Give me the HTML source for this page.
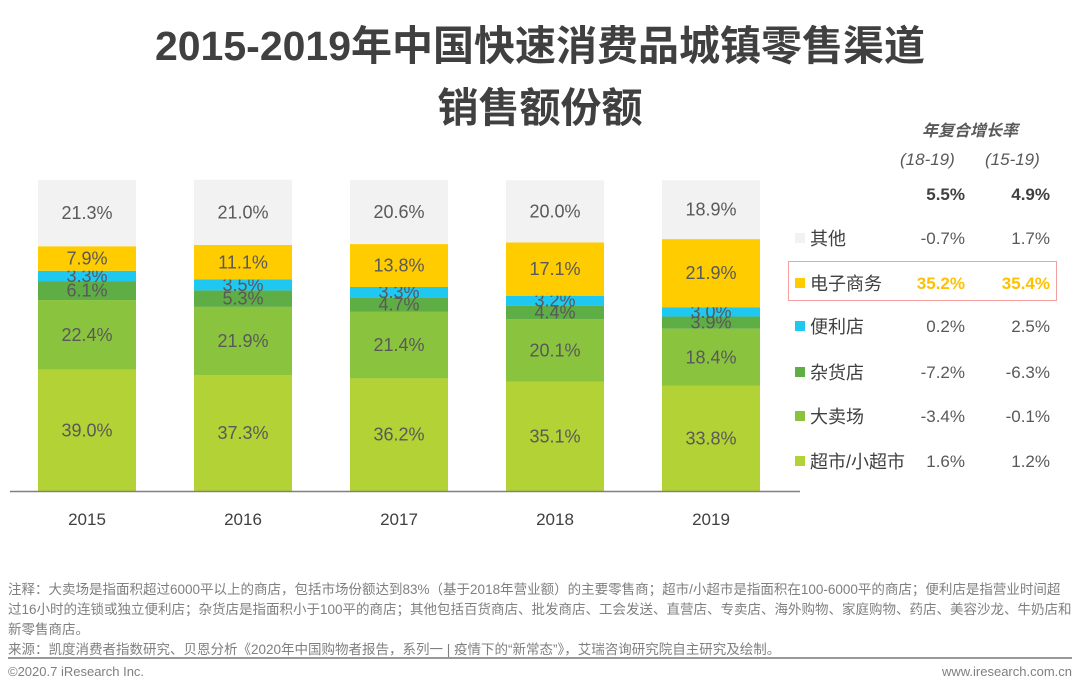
<!DOCTYPE html>
<html><head><meta charset="utf-8"><style>
body{margin:0;width:1080px;height:692px;background:#fff;overflow:hidden;font-family:"Liberation Sans","Noto Sans CJK SC",sans-serif;}
.t{position:absolute;left:0;width:1080px;text-align:center;font-weight:bold;font-size:41px;color:#404040;}
.lg{position:absolute;font-size:17px;color:#404040;}
.v{position:absolute;width:80px;text-align:right;font-size:17px;color:#595959;}
.note{position:absolute;left:8px;font-size:13.5px;color:#7f7f7f;white-space:nowrap;}
</style></head><body>
<div class="t" style="top:12px">2015-2019年中国快速消费品城镇零售渠道</div>
<div class="t" style="top:74px">销售额份额</div>
<svg id="chart" width="1080" height="692" style="position:absolute;left:0;top:0"></svg>
<div>
<div class="lg" style="left:922px;top:117px;font-weight:bold;font-style:italic;color:#595959;font-size:16px">年复合增长率</div>
<div class="lg" style="left:900px;top:150px;font-style:italic;color:#595959">(18-19)</div>
<div class="lg" style="left:985px;top:150px;font-style:italic;color:#595959">(15-19)</div>
<div class="v" style="left:885px;top:185px;font-weight:bold;color:#404040">5.5%</div>
<div class="v" style="left:970px;top:185px;font-weight:bold;color:#404040">4.9%</div>
<div style="position:absolute;left:788px;top:261px;width:269px;height:40px;border:1px solid #f4a0a0;box-sizing:border-box"></div>
</div>
<div class="note" style="top:578px">注释：大卖场是指面积超过6000平以上的商店，包括市场份额达到83%（基于2018年营业额）的主要零售商；超市/小超市是指面积在100-6000平的商店；便利店是指营业时间超</div>
<div class="note" style="top:598px">过16小时的连锁或独立便利店；杂货店是指面积小于100平的商店；其他包括百货商店、批发商店、工会发送、直营店、专卖店、海外购物、家庭购物、药店、美容沙龙、牛奶店和</div>
<div class="note" style="top:618px">新零售商店。</div>
<div class="note" style="top:638px">来源：凯度消费者指数研究、贝恩分析《2020年中国购物者报告，系列一 | 疫情下的“新常态”》，艾瑞咨询研究院自主研究及绘制。</div>
<div style="position:absolute;left:8px;top:657px;width:1064px;height:2px;background:#999"></div>
<div class="note" style="top:664px;font-size:13px">©2020.7 iResearch Inc.</div>
<div class="note" style="top:664px;left:auto;right:8px;font-size:13px">www.iresearch.com.cn</div>
<script>
const years=["2015","2016","2017","2018","2019"];
const seriesNames=["超市/小超市","大卖场","杂货店","便利店","电子商务","其他"];
const superS=[39.0,37.3,36.2,35.1,33.8];
const hyper=[22.4,21.9,21.4,20.1,18.4];
const grocery=[6.1,5.3,4.7,4.4,3.9];
const conv=[3.3,3.5,3.3,3.2,3.0];
const ecom=[7.9,11.1,13.8,17.1,21.9];
const other=[21.3,21.0,20.6,20.0,18.9];
const cagr1=["1.6%","-3.4%","-7.2%","0.2%","35.2%","-0.7%"];
const cagr2=["1.2%","-0.1%","-6.3%","2.5%","35.4%","1.7%"];
const series=[superS,hyper,grocery,conv,ecom,other];
const colors=["#b2d235","#8ac43f","#5fad45","#1ec8f0","#ffcc00","#f2f2f2"];
const keys=["supermarket","hypermarket","grocery","convenience","ecommerce","other"];
const NS="http://www.w3.org/2000/svg";
const svg=document.getElementById("chart");
const y0=491,y1=180;
const ys=v=>(y1-y0)*v/100;
const xs=i=>38+i*156;
const bw=98;
function mk(t,a){const e=document.createElementNS(NS,t);for(const k in a)e.setAttribute(k,a[k]);svg.appendChild(e);return e;}
years.forEach((yr,i)=>{
  let cum=0;
  series.forEach((s,j)=>{
    const v=s[i];
    const top=y0+ys(cum+v), h=-ys(v);
    const r=mk("rect",{x:xs(i),y:top,width:bw,height:h,fill:colors[j]});
    
    
    const t=mk("text",{x:xs(i)+bw/2,y:top+h/2+6,"text-anchor":"middle","font-size":"18","fill":"#595959","font-family":"Liberation Sans, sans-serif"});
    t.textContent=v.toFixed(1)+"%";
    
    
    cum+=v;
  });
  const lb=mk("text",{x:xs(i)+bw/2,y:525,"text-anchor":"middle","font-size":"17","fill":"#404040","font-family":"Liberation Sans, sans-serif"});
  lb.textContent=yr;
  
  
});
const ax=mk("line",{x1:10,x2:800,y1:y0+0.5,y2:y0+0.5,stroke:"#808080","stroke-width":1.5});


const rowY=[461,416,372,326,283,238];
seriesNames.forEach((n,j)=>{
  const y=rowY[j];
  const sq=mk("rect",{x:795,y:y-5,width:10,height:10,fill:colors[j]});
  
  
  const t=mk("text",{x:810,y:y+7,"font-size":"18","fill":"#404040","font-family":"Liberation Sans, Noto Sans CJK SC, sans-serif"});
  t.textContent=n;
  
  
  const hl=j===4;
  const a=mk("text",{x:965,y:y+6,"text-anchor":"end","font-size":"17","fill":hl?"#ffc000":"#595959","font-weight":hl?"bold":"normal","font-family":"Liberation Sans, sans-serif"});
  a.textContent=cagr1[j];
  
  
  const b=mk("text",{x:1050,y:y+6,"text-anchor":"end","font-size":"17","fill":hl?"#ffc000":"#595959","font-weight":hl?"bold":"normal","font-family":"Liberation Sans, sans-serif"});
  b.textContent=cagr2[j];
  
  
});
</script>
</body></html>
